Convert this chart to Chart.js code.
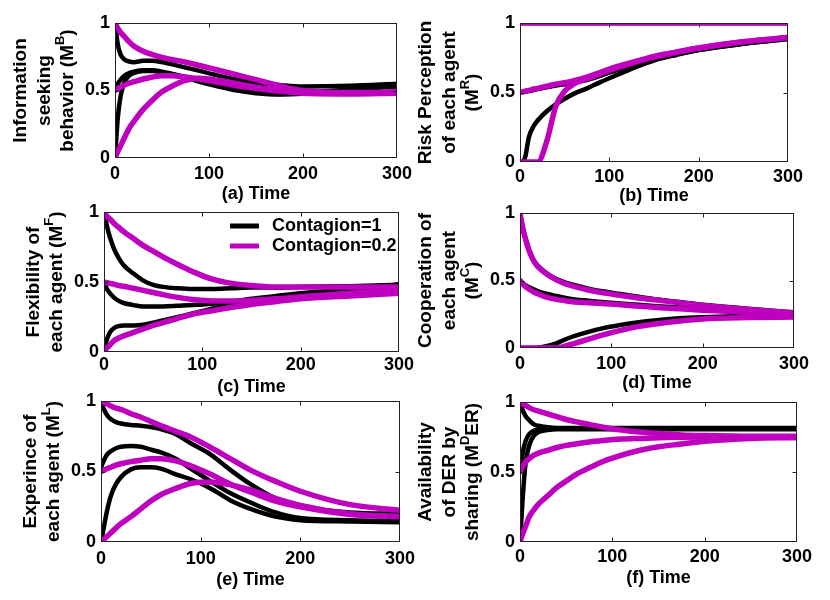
<!DOCTYPE html>
<html lang="en">
<head>
<meta charset="UTF-8">
<title>Agent behaviour under contagion</title>
<script src="https://cdn.jsdelivr.net/npm/chart.js"></script>
<style>
  body { margin: 0; background: #fff; }
  #wrap { position: relative; width: 830px; height: 600px; overflow: hidden; }
  #wrap canvas { position: absolute; }
</style>
</head>
<body>
<div id="wrap">
  <canvas id="panelA"></canvas>
  <canvas id="panelB"></canvas>
  <canvas id="panelC"></canvas>
  <canvas id="panelD"></canvas>
  <canvas id="panelE"></canvas>
  <canvas id="panelF"></canvas>
</div>
<script>
// ---- data ----
const time = [0, 3, 6, 10, 15, 20, 30, 40, 50, 60, 75, 90, 110, 130, 150, 175, 200, 250, 300];
const xTicks = [0, 100, 200, 300];
const xTickLabels = ['0', '100', '200', '300'];
const yTicks = [0, 0.5, 1];
const yTickLabels = ['0', '0.5', '1'];
const legendLabels = ['Contagion=1', 'Contagion=0.2'];

// (a) information seeking
const aBlack1  = [1.00, 0.84, 0.765, 0.73, 0.715, 0.71, 0.72, 0.72, 0.71, 0.695, 0.67, 0.645, 0.61, 0.58, 0.555, 0.54, 0.53, 0.535, 0.55];
const aBlack05 = [0.50, 0.55, 0.58, 0.61, 0.63, 0.64, 0.65, 0.65, 0.64, 0.625, 0.60, 0.57, 0.535, 0.505, 0.485, 0.475, 0.48, 0.51, 0.535];
const aBlack0  = [0.00, 0.30, 0.46, 0.56, 0.61, 0.63, 0.645, 0.645, 0.635, 0.62, 0.595, 0.565, 0.53, 0.50, 0.48, 0.47, 0.475, 0.505, 0.53];
const aMag1    = [1.00, 0.96, 0.93, 0.90, 0.86, 0.83, 0.79, 0.765, 0.745, 0.73, 0.71, 0.685, 0.65, 0.615, 0.58, 0.535, 0.50, 0.485, 0.49];
const aMag05   = [0.50, 0.515, 0.525, 0.54, 0.555, 0.565, 0.585, 0.60, 0.61, 0.61, 0.60, 0.585, 0.56, 0.535, 0.515, 0.495, 0.48, 0.475, 0.48];
const aMag0    = [0.00, 0.05, 0.09, 0.15, 0.22, 0.27, 0.36, 0.43, 0.49, 0.53, 0.575, 0.59, 0.575, 0.55, 0.525, 0.50, 0.485, 0.48, 0.485];

// (b) risk perception
const bBlack1  = [1, 1, 1, 1, 1, 1, 1, 1, 1, 1, 1, 1, 1, 1, 1, 1, 1, 1, 1];
const bBlack05 = [0.50, 0.503, 0.506, 0.51, 0.518, 0.525, 0.538, 0.55, 0.56, 0.572, 0.59, 0.62, 0.665, 0.705, 0.74, 0.775, 0.805, 0.85, 0.885];
const bBlack0  = [0.00, 0.00, 0.04, 0.18, 0.255, 0.30, 0.365, 0.415, 0.455, 0.49, 0.53, 0.575, 0.63, 0.685, 0.73, 0.77, 0.805, 0.85, 0.885];
const bMag1    = [1, 1, 1, 1, 1, 1, 1, 1, 1, 1, 1, 1, 1, 1, 1, 1, 1, 1, 1];
const bMag05   = [0.50, 0.505, 0.51, 0.515, 0.525, 0.53, 0.545, 0.56, 0.57, 0.585, 0.61, 0.645, 0.69, 0.725, 0.76, 0.79, 0.82, 0.865, 0.895];
const bMag0    = [0.00, 0.00, 0.00, 0.00, 0.00, 0.00, 0.15, 0.40, 0.51, 0.56, 0.60, 0.635, 0.68, 0.72, 0.755, 0.79, 0.82, 0.865, 0.895];

// (c) flexibility
const cBlack1  = [1.00, 0.90, 0.82, 0.74, 0.67, 0.62, 0.56, 0.51, 0.48, 0.465, 0.455, 0.45, 0.45, 0.455, 0.46, 0.46, 0.465, 0.47, 0.48];
const cBlack05 = [0.50, 0.45, 0.42, 0.39, 0.365, 0.35, 0.335, 0.325, 0.325, 0.325, 0.33, 0.335, 0.345, 0.36, 0.38, 0.40, 0.42, 0.445, 0.465];
const cBlack0  = [0.00, 0.09, 0.14, 0.17, 0.185, 0.19, 0.19, 0.195, 0.21, 0.225, 0.25, 0.275, 0.31, 0.34, 0.365, 0.39, 0.41, 0.44, 0.46];
const cMag1    = [1.00, 0.97, 0.95, 0.92, 0.89, 0.86, 0.81, 0.76, 0.72, 0.68, 0.625, 0.575, 0.52, 0.49, 0.475, 0.465, 0.465, 0.465, 0.465];
const cMag05   = [0.50, 0.495, 0.49, 0.485, 0.475, 0.47, 0.455, 0.44, 0.425, 0.41, 0.39, 0.375, 0.365, 0.365, 0.37, 0.38, 0.395, 0.42, 0.44];
const cMag0    = [0.00, 0.03, 0.05, 0.08, 0.10, 0.115, 0.14, 0.165, 0.19, 0.21, 0.24, 0.27, 0.295, 0.32, 0.34, 0.36, 0.38, 0.40, 0.42];

// (d) cooperation
const dBlack1  = [1.00, 0.89, 0.81, 0.725, 0.65, 0.605, 0.55, 0.51, 0.485, 0.465, 0.44, 0.42, 0.40, 0.38, 0.36, 0.34, 0.32, 0.29, 0.265];
const dBlack05 = [0.50, 0.48, 0.465, 0.45, 0.435, 0.42, 0.40, 0.385, 0.37, 0.36, 0.35, 0.34, 0.33, 0.32, 0.31, 0.30, 0.29, 0.275, 0.26];
const dBlack0  = [0.00, 0.00, 0.00, 0.00, 0.00, 0.002, 0.015, 0.035, 0.065, 0.09, 0.12, 0.145, 0.17, 0.19, 0.205, 0.22, 0.228, 0.238, 0.245];
const dMag1    = [1.00, 0.89, 0.81, 0.72, 0.645, 0.60, 0.545, 0.505, 0.475, 0.455, 0.43, 0.41, 0.39, 0.37, 0.355, 0.335, 0.315, 0.285, 0.26];
const dMag05   = [0.50, 0.475, 0.455, 0.435, 0.415, 0.40, 0.375, 0.36, 0.35, 0.34, 0.335, 0.33, 0.32, 0.31, 0.30, 0.29, 0.28, 0.265, 0.25];
const dMag0    = [0.00, 0.00, 0.00, 0.00, 0.00, 0.00, 0.00, 0.00, 0.015, 0.035, 0.065, 0.095, 0.13, 0.16, 0.18, 0.20, 0.215, 0.225, 0.23];

// (e) experience
const eBlack1  = [1.00, 0.94, 0.90, 0.87, 0.85, 0.84, 0.83, 0.825, 0.815, 0.80, 0.765, 0.70, 0.62, 0.51, 0.41, 0.31, 0.25, 0.21, 0.20];
const eBlack05 = [0.53, 0.58, 0.62, 0.645, 0.665, 0.675, 0.68, 0.675, 0.655, 0.635, 0.59, 0.52, 0.43, 0.345, 0.28, 0.21, 0.17, 0.155, 0.15];
const eBlack0  = [0.00, 0.11, 0.22, 0.33, 0.41, 0.46, 0.515, 0.53, 0.53, 0.52, 0.48, 0.445, 0.38, 0.295, 0.235, 0.18, 0.155, 0.145, 0.14];
const eMag1    = [1.00, 0.99, 0.98, 0.965, 0.95, 0.94, 0.91, 0.885, 0.855, 0.825, 0.785, 0.745, 0.67, 0.59, 0.51, 0.43, 0.36, 0.265, 0.225];
const eMag05   = [0.50, 0.51, 0.52, 0.53, 0.545, 0.555, 0.57, 0.58, 0.59, 0.59, 0.575, 0.54, 0.48, 0.41, 0.355, 0.29, 0.25, 0.195, 0.18];
const eMag0    = [0.00, 0.02, 0.04, 0.065, 0.10, 0.13, 0.18, 0.235, 0.29, 0.335, 0.38, 0.415, 0.425, 0.405, 0.37, 0.31, 0.26, 0.20, 0.18];

// (f) DER availability
const fBlack1  = [1.00, 0.94, 0.90, 0.87, 0.84, 0.83, 0.82, 0.815, 0.815, 0.815, 0.815, 0.815, 0.815, 0.815, 0.815, 0.815, 0.815, 0.815, 0.815];
const fBlack05 = [0.50, 0.64, 0.72, 0.77, 0.795, 0.805, 0.81, 0.81, 0.81, 0.81, 0.81, 0.81, 0.81, 0.81, 0.81, 0.81, 0.81, 0.81, 0.81];
const fBlack0  = [0.00, 0.32, 0.56, 0.69, 0.76, 0.785, 0.80, 0.805, 0.805, 0.805, 0.805, 0.805, 0.805, 0.805, 0.805, 0.805, 0.805, 0.805, 0.805];
const fMag1    = [1.00, 0.985, 0.975, 0.96, 0.945, 0.935, 0.915, 0.895, 0.875, 0.86, 0.84, 0.82, 0.80, 0.785, 0.775, 0.765, 0.76, 0.755, 0.755];
const fMag05   = [0.50, 0.54, 0.57, 0.595, 0.62, 0.635, 0.655, 0.675, 0.69, 0.70, 0.715, 0.725, 0.735, 0.74, 0.745, 0.748, 0.75, 0.752, 0.752];
const fMag0    = [0.00, 0.06, 0.11, 0.18, 0.23, 0.27, 0.33, 0.39, 0.435, 0.48, 0.53, 0.575, 0.62, 0.655, 0.68, 0.70, 0.72, 0.74, 0.745];

// ---- styling ----
const BLACK = '#000000';
const MAGENTA = '#bf00bf';
const FONT = "'Liberation Sans', Arial, Helvetica, sans-serif";

Chart.defaults.font.family = FONT;
Chart.defaults.font.size = 18;
Chart.defaults.font.weight = 'bold';
Chart.defaults.color = '#000';

// text like "behavior (M^B)": one character after ^ is a superscript
function drawRich(ctx, line, cx, cy, size) {
  let pre = line, sup = '', post = '';
  const k = line.indexOf('^');
  if (k >= 0) {
    pre = line.slice(0, k);
    sup = line.charAt(k + 1);
    post = line.slice(k + 2);
  }
  const big = 'bold ' + size + 'px ' + FONT;
  const small = 'bold ' + Math.round(size * 0.68) + 'px ' + FONT;
  ctx.font = big;
  const w1 = ctx.measureText(pre).width, w3 = ctx.measureText(post).width;
  ctx.font = small;
  const w2 = ctx.measureText(sup).width;
  let x = cx - (w1 + w2 + w3) / 2;
  ctx.textAlign = 'left';
  ctx.textBaseline = 'middle';
  ctx.font = big;
  ctx.fillText(pre, x, cy);
  x += w1;
  if (sup) {
    ctx.font = small;
    ctx.fillText(sup, x, cy - size * 0.4);
    x += w2;
  }
  ctx.font = big;
  ctx.fillText(post, x, cy);
}

const decorPlugin = {
  id: 'decor',
  afterDatasetsDraw(chart, args, o) {
    const { ctx, chartArea: a, scales: { x, y } } = chart;
    ctx.save();
    // box and inward ticks
    ctx.strokeStyle = '#222';
    ctx.lineWidth = 1;
    const L = Math.round(a.left) + 0.5, T = Math.round(a.top) + 0.5;
    const R = Math.round(a.right) - 0.5, B = Math.round(a.bottom) - 0.5;
    ctx.strokeRect(L, T, R - L, B - T);
    ctx.beginPath();
    xTicks.slice(1, -1).forEach(v => {
      const px = Math.round(x.getPixelForValue(v)) + 0.5;
      ctx.moveTo(px, B); ctx.lineTo(px, B - 4);
      ctx.moveTo(px, T); ctx.lineTo(px, T + 4);
    });
    yTicks.slice(1, -1).forEach(v => {
      const py = Math.round(y.getPixelForValue(v)) + 0.5;
      ctx.moveTo(L, py); ctx.lineTo(L + 4, py);
      ctx.moveTo(R, py); ctx.lineTo(R - 4, py);
    });
    ctx.stroke();

    ctx.fillStyle = '#000';
    // x title
    drawRich(ctx, o.xTitle, (a.left + a.right) / 2, a.bottom + o.xTitleOffset, 18);
    // y title, rotated
    const n = o.yTitle.length;
    o.yTitle.forEach((line, i) => {
      ctx.save();
      ctx.translate(a.left - 47 - 23.5 * (n - 1 - i), (a.top + a.bottom) / 2);
      ctx.rotate(-Math.PI / 2);
      drawRich(ctx, line, 0, 0, 19);
      ctx.restore();
    });

    // legend inside the chart area
    if (o.legend) {
      const colors = [BLACK, MAGENTA];
      legendLabels.forEach((label, i) => {
        const ly = a.top + 14 + i * 20;
        ctx.strokeStyle = colors[i];
        ctx.lineWidth = 5;
        ctx.beginPath();
        ctx.moveTo(a.right - 169, ly);
        ctx.lineTo(a.right - 140, ly);
        ctx.stroke();
        ctx.font = 'bold 18px ' + FONT;
        ctx.textAlign = 'left';
        ctx.textBaseline = 'middle';
        ctx.fillText(label, a.right - 127, ly);
      });
    }
    ctx.restore();
  }
};

function series(values, color, width) {
  return {
    data: values.map((v, i) => ({ x: time[i], y: v })),
    borderColor: color,
    borderWidth: width,
    pointRadius: 0,
    cubicInterpolationMode: 'monotone',
    borderJoinStyle: 'round',
    borderCapStyle: 'round',
    fill: false
  };
}

// canvas rect and target plot area (page pixels)
function makePanel(id, rect, area, black, magenta, yTitle, xTitle, tickPad, xTitleOffset, legend) {
  const cv = document.getElementById(id);
  cv.width = rect.w; cv.height = rect.h;
  cv.style.left = rect.x + 'px'; cv.style.top = rect.y + 'px';
  const yAxisW = area.l - rect.x;
  const xAxisH = rect.y + rect.h - area.b;
  return new Chart(cv, {
    type: 'line',
    data: {
      datasets: [
        ...magenta.map(v => series(v, MAGENTA, 5.5)),
        ...black.map(v => series(v, BLACK, 4.5))
      ]
    },
    options: {
      responsive: false,
      animation: false,
      events: [],
      layout: {
        padding: { left: 0, bottom: 0, top: area.t - rect.y, right: rect.x + rect.w - area.r }
      },
      plugins: {
        legend: { display: false },
        tooltip: { enabled: false },
        decor: { yTitle, xTitle, xTitleOffset, legend }
      },
      scales: {
        x: {
          type: 'linear', min: 0, max: 300,
          grid: { display: false, drawTicks: false },
          border: { display: false },
          afterBuildTicks: s => { s.ticks = xTicks.map(v => ({ value: v })); },
          ticks: { padding: tickPad, maxRotation: 0, callback: (v, i) => xTickLabels[i] },
          afterFit: s => { s.height = xAxisH; s.paddingLeft = 0; s.paddingRight = 0; }
        },
        y: {
          min: 0, max: 1,
          grid: { display: false, drawTicks: false },
          border: { display: false },
          afterBuildTicks: s => { s.ticks = yTicks.map(v => ({ value: v })); },
          ticks: { padding: 5, callback: (v, i) => yTickLabels[i] },
          afterFit: s => { s.width = yAxisW; s.paddingTop = 0; s.paddingBottom = 0; }
        }
      }
    },
    plugins: [decorPlugin]
  });
}

makePanel('panelA', { x: 0, y: 0, w: 415, h: 205 }, { l: 115, t: 23, r: 397, b: 158 },
  [aBlack1, aBlack05, aBlack0], [aMag1, aMag05, aMag0],
  ['Information', 'seeking', 'behavior (M^B)'], '(a) Time', 5, 36, false);
makePanel('panelB', { x: 410, y: 0, w: 420, h: 205 }, { l: 520, t: 23, r: 788, b: 162 },
  [bBlack1, bBlack05, bBlack0], [bMag1, bMag05, bMag0],
  ['Risk Perception', 'of each agent', '(M^R)'], '(b) Time', 4, 34, false);
makePanel('panelC', { x: 0, y: 200, w: 415, h: 200 }, { l: 104, t: 212, r: 399, b: 352 },
  [cBlack1, cBlack05, cBlack0], [cMag1, cMag05, cMag0],
  ['Flexibility of', 'each agent (M^F)'], '(c) Time', 2, 35, true);
makePanel('panelD', { x: 410, y: 200, w: 420, h: 200 }, { l: 520, t: 213, r: 794, b: 348 },
  [dBlack1, dBlack05, dBlack0], [dMag1, dMag05, dMag0],
  ['Cooperation of', 'each agent', '(M^C)'], '(d) Time', 5, 35, false);
makePanel('panelE', { x: 0, y: 390, w: 415, h: 210 }, { l: 101, t: 401, r: 400, b: 542 },
  [eBlack1, eBlack05, eBlack0], [eMag1, eMag05, eMag0],
  ['Experince of', 'each agent (M^L)'], '(e) Time', 6, 38, false);
makePanel('panelF', { x: 410, y: 390, w: 420, h: 210 }, { l: 520, t: 402, r: 797, b: 542 },
  [fBlack1, fBlack05, fBlack0], [fMag1, fMag05, fMag0],
  ['Availability', 'of DER by', 'sharing (M^DER)'], '(f) Time', 4, 36, false);
</script>
</body>
</html>
